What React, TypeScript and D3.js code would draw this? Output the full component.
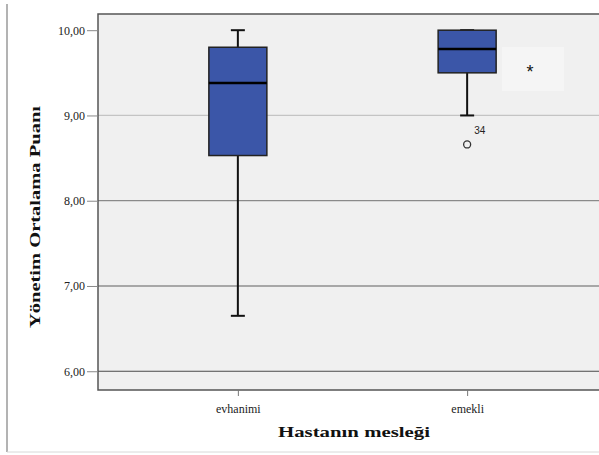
import * as d3 from "d3";
import React, { useEffect, useRef } from "react";

// box plot data
const categories = ["evhanimi", "emekli"];
const whiskerLow = [6.65, 9.0];
const q1 = [8.53, 9.5];
const medians = [9.38, 9.78];
const q3 = [9.8, 10.0];
const whiskerHigh = [10.0, 10.0];
const outliers = [{ cat: "emekli", value: 8.66, label: "34" }];
const yTicks = [6, 7, 8, 9, 10];
const yTickLabels = ["6,00", "7,00", "8,00", "9,00", "10,00"];

export default function App() {
  const ref = useRef<SVGSVGElement | null>(null);

  useEffect(() => {
    const node = ref.current;
    if (!node) return;
    node.innerHTML = "";

    const width = 599;
    const height = 455;
    const margin = { top: 14, right: -8, bottom: 65, left: 98 };

    const svg = d3.select(node);

    // outer frame of the output window
    svg.append("line")
      .attr("x1", 7).attr("x2", 7).attr("y1", 4).attr("y2", 452)
      .attr("stroke", "#9a9a9a").attr("stroke-width", 1.5);
    svg.append("line")
      .attr("x1", 7).attr("x2", width).attr("y1", 452).attr("y2", 452)
      .attr("stroke", "#d8d8d8").attr("stroke-width", 1);

    const y = d3.scaleLinear()
      .domain([5.78, 10.19])
      .range([height - margin.bottom, margin.top]);

    const x = d3.scalePoint<string>()
      .domain(categories)
      .range([margin.left, width - margin.right])
      .padding(0.61);

    const plotW = width - margin.right - margin.left;
    const plotH = height - margin.bottom - margin.top;

    svg.append("rect")
      .attr("x", margin.left).attr("y", margin.top)
      .attr("width", plotW).attr("height", plotH)
      .attr("fill", "#f0f0f0");

    // grid lines (SPSS draws them with different shades)
    const gridColor: Record<number, string> = { 6: "#4a4a4a", 7: "#5e5e5e", 8: "#8a8a8a", 9: "#c4c4c4" };
    svg.append("g")
      .selectAll("line")
      .data(yTicks.filter(t => t < 10))
      .join("line")
      .attr("x1", margin.left).attr("x2", width)
      .attr("y1", d => y(d)).attr("y2", d => y(d))
      .attr("stroke", d => gridColor[d])
      .attr("stroke-width", 1.2);

    // lighter rectangle behind the "*"
    svg.append("rect")
      .attr("x", 502).attr("y", 47).attr("width", 62).attr("height", 44)
      .attr("fill", "#f5f5f5");
    svg.append("text")
      .attr("x", 530).attr("y", 78)
      .attr("text-anchor", "middle")
      .attr("font-family", "Liberation Sans, Arial, sans-serif")
      .attr("font-size", 18)
      .attr("fill", "#111")
      .text("*");

    // frame
    svg.append("rect")
      .attr("x", margin.left).attr("y", margin.top)
      .attr("width", plotW).attr("height", plotH)
      .attr("fill", "none")
      .attr("stroke", "#555").attr("stroke-width", 1.5);

    // y axis
    const yAxis = svg.append("g")
      .attr("transform", `translate(${margin.left},0)`)
      .call(d3.axisLeft(y).tickValues(yTicks).tickSize(11)
        .tickFormat((d, i) => yTickLabels[i]));
    yAxis.select(".domain").remove();
    yAxis.selectAll(".tick line").attr("stroke", "#888");
    yAxis.selectAll(".tick text")
      .attr("font-family", "Liberation Serif, serif")
      .attr("font-size", 12)
      .attr("fill", "#222")
      .attr("x", -13);

    // x axis
    const xAxis = svg.append("g")
      .attr("transform", `translate(0,${height - margin.bottom})`)
      .call(d3.axisBottom(x).tickSize(6));
    xAxis.select(".domain").remove();
    xAxis.selectAll(".tick line").attr("stroke", "#777");
    xAxis.selectAll(".tick text")
      .attr("font-family", "Liberation Serif, serif")
      .attr("font-size", 12)
      .attr("fill", "#222")
      .attr("y", 14);

    // boxes
    const boxW = 58;
    const capW = 14;
    categories.forEach((c, i) => {
      const cx = x(c) as number;
      const g = svg.append("g");
      g.append("line")
        .attr("x1", cx).attr("x2", cx)
        .attr("y1", y(whiskerLow[i])).attr("y2", y(whiskerHigh[i]))
        .attr("stroke", "#111").attr("stroke-width", 2);
      [whiskerLow[i], whiskerHigh[i]].forEach(v => {
        g.append("line")
          .attr("x1", cx - capW / 2).attr("x2", cx + capW / 2)
          .attr("y1", y(v)).attr("y2", y(v))
          .attr("stroke", "#111").attr("stroke-width", 2);
      });
      g.append("rect")
        .attr("x", cx - boxW / 2).attr("width", boxW)
        .attr("y", y(q3[i])).attr("height", y(q1[i]) - y(q3[i]))
        .attr("fill", "#3b56a8")
        .attr("stroke", "#222").attr("stroke-width", 1.5);
      g.append("line")
        .attr("x1", cx - boxW / 2).attr("x2", cx + boxW / 2)
        .attr("y1", y(medians[i])).attr("y2", y(medians[i]))
        .attr("stroke", "#000").attr("stroke-width", 2.5);
    });

    // outliers
    outliers.forEach(o => {
      const cx = x(o.cat) as number;
      svg.append("circle")
        .attr("cx", cx).attr("cy", y(o.value)).attr("r", 3.5)
        .attr("fill", "none").attr("stroke", "#333").attr("stroke-width", 1.3);
      svg.append("text")
        .attr("x", cx + 7).attr("y", y(o.value) - 10)
        .attr("font-family", "Liberation Sans, Arial, sans-serif")
        .attr("font-size", 10)
        .attr("fill", "#222")
        .text(o.label);
    });

    // axis titles
    svg.append("text")
      .attr("x", 354).attr("y", 437)
      .attr("text-anchor", "middle")
      .attr("font-family", "Liberation Serif, serif")
      .attr("font-weight", "bold")
      .attr("font-size", 15)
      .attr("textLength", 152)
      .attr("lengthAdjust", "spacingAndGlyphs")
      .attr("fill", "#111")
      .text("Hastanın mesleği");
    svg.append("text")
      .attr("transform", "translate(40,217) rotate(-90)")
      .attr("text-anchor", "middle")
      .attr("font-family", "Liberation Serif, serif")
      .attr("font-weight", "bold")
      .attr("font-size", 14)
      .attr("textLength", 222)
      .attr("lengthAdjust", "spacingAndGlyphs")
      .attr("fill", "#111")
      .text("Yönetim Ortalama Puanı");
  }, []);

  return (
    <div style={{ position: "absolute", left: 0, top: 0 }}>
      <svg ref={ref} width={599} height={455} style={{ display: "block", background: "#fff" }} />
    </div>
  );
}
